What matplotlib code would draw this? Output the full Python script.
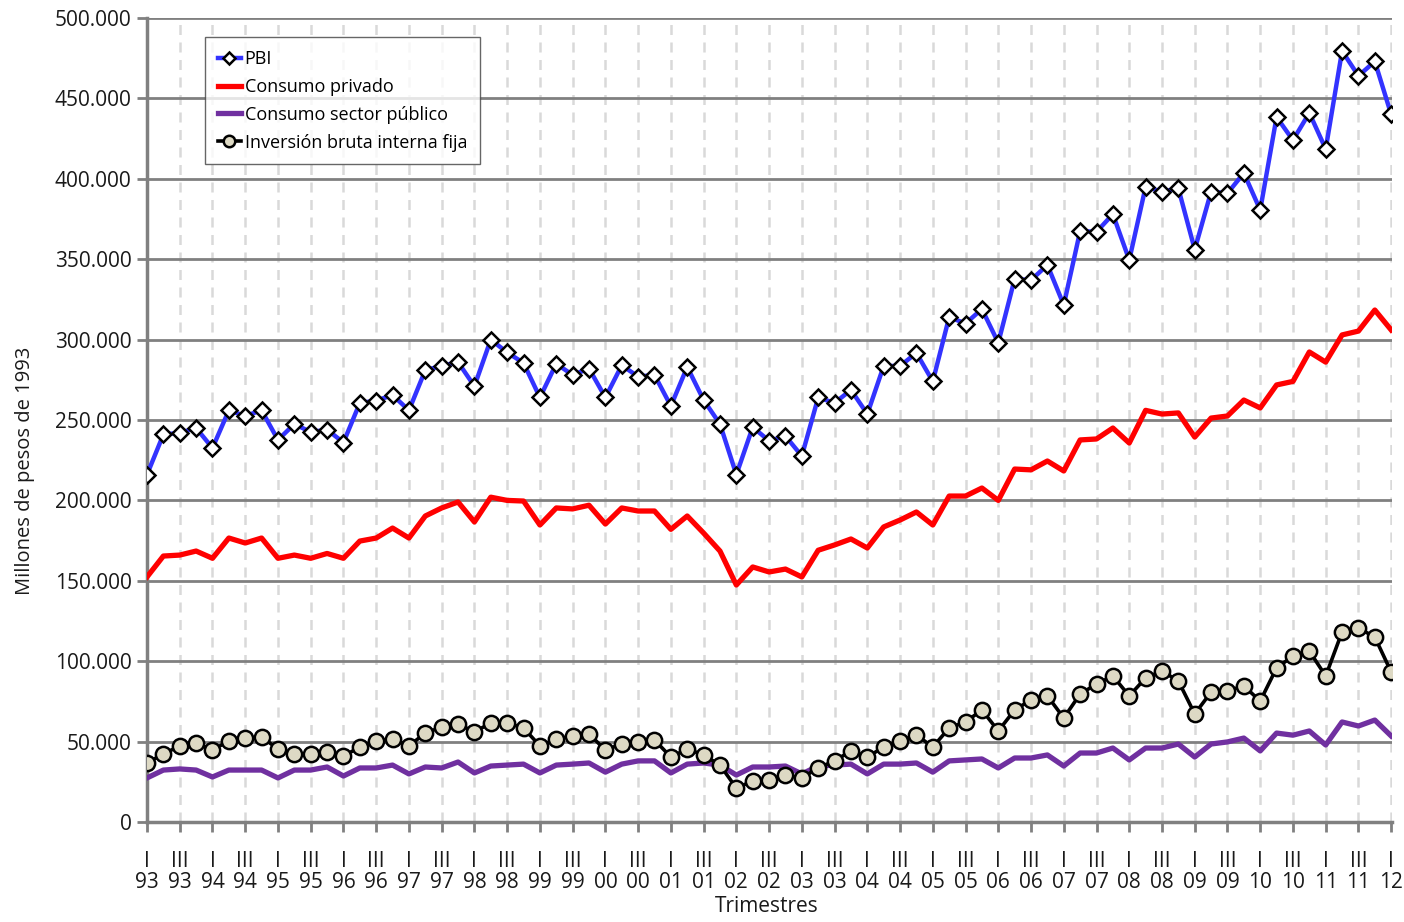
import numpy as np
import matplotlib
matplotlib.use("Agg")
import matplotlib.pyplot as plt
from matplotlib.ticker import FuncFormatter, MultipleLocator

# --- datos trimestrales 1993-I a 2012-I (miles de millones de pesos de 1993 / 1000) ---
years = [f"{y % 100:02d}" for y in range(1993, 2013)]

pbi = [216, 241, 242, 245, 232.6, 256, 252.5, 256,
       237.6, 247.5, 242.5, 244, 236, 260.6, 262, 265.5,
       256, 281, 283.6, 286, 271, 300, 292, 285.5,
       264, 285, 278, 282, 264, 284, 277, 278,
       258.7, 283, 262.4, 247.5, 216, 245.6, 237, 240,
       227.6, 264, 260.6, 268.7, 253.7, 283.6, 283.6, 291.7,
       274, 314, 310, 319, 298, 337.7, 337, 346.4,
       321.5, 367.5, 367, 378, 349.5, 395, 392, 394,
       356, 392, 391, 403.6, 380.6, 438.4, 424, 441,
       418.5, 479.5, 464, 473, 440]

consumo_privado = [152.4, 165.4, 166, 168.5, 164, 176.6, 173.5, 176.6,
                   164, 166, 164, 167, 164, 174.7, 176.6, 182.8,
                   176.6, 190.3, 195.3, 199, 186.6, 202, 200, 199.6,
                   184.7, 195.3, 194.7, 197, 185.3, 195.3, 193.4, 193.4,
                   182, 190.3, 179.7, 168.5, 147.4, 158.6, 155.5, 157.3,
                   152.4, 169, 172.3, 176, 170.4, 183.5, 187.8, 192.8,
                   184.7, 202.7, 202.7, 207.7, 200, 219.5, 219, 224.5,
                   218.3, 237.6, 238.2, 245, 235.7, 256, 253.7, 254.4,
                   239.4, 251.2, 252.5, 262.4, 257.5, 271.8, 274, 292.3,
                   286, 302.9, 305.3, 318.4, 306]

consumo_publico = [27.4, 32.3, 33, 32.3, 28, 32.3, 32.3, 32.3,
                   27.4, 32.3, 32.3, 34.2, 28.6, 33.6, 33.6, 35.4,
                   29.9, 34.2, 33.6, 37.3, 30.5, 34.8, 35.4, 36,
                   30.5, 35.4, 36, 36.7, 31, 36, 38, 38,
                   30.5, 36, 36.7, 35.4, 29.2, 34.2, 34.2, 34.8,
                   29.9, 34.8, 35.4, 36, 29.9, 36, 36, 36.7,
                   31, 38, 38.6, 39.2, 33.6, 39.8, 39.8, 41.7,
                   34.8, 42.9, 42.9, 46, 38.6, 46, 46, 48.5,
                   40.4, 48.5, 49.8, 52.2, 44.2, 55.3, 54, 56.6,
                   47.9, 62.2, 59.7, 63.4, 53.5]

inversion = [36.7, 42.3, 47.3, 49.1, 44.8, 50.4, 52.2, 52.9,
             45.4, 42.3, 42.3, 43.5, 41, 46.6, 50.4, 51.6,
             47.3, 55.3, 59, 61, 56, 61.6, 61.6, 58.5,
             47.3, 51.6, 53.5, 54.7, 44.8, 48.5, 49.8, 51,
             40.4, 45.4, 41.7, 35.4, 21.1, 25.5, 26.1, 29.2,
             27.4, 33.6, 38, 44.2, 40.4, 46.6, 50.4, 54.1,
             46.6, 58.5, 62.2, 69.7, 56.6, 69.7, 75.9, 78.4,
             64.7, 79.6, 85.8, 90.8, 78.4, 89.6, 93.9, 87.7,
             67.2, 80.8, 81.5, 84.6, 75.2, 95.8, 103.2, 106.3,
             90.8, 118.2, 120.6, 115, 93.3]


def miles(v, pos):
    # 500000 -> "500.000"
    if v == 0:
        return "0"
    return f"{int(round(v)):,}".replace(",", ".")


plt.rcParams['font.family'] = ['Open Sans', 'DejaVu Sans']
fig = plt.figure(figsize=(14.04, 9.22), dpi=100)
ax = fig.add_axes([147 / 1404, 1 - 822 / 922, (1392 - 147) / 1404, (822 - 18) / 922])

x = np.arange(len(pbi))
k = 1000.0
grid_gray = '#808080'
txt = '#1a1a1a'

ax.plot(x, np.array(consumo_publico) * k, color='#7030a0', lw=3.8, label='Consumo sector público', zorder=3)
ax.plot(x, np.array(consumo_privado) * k, color='#ff0000', lw=3.8, label='Consumo privado', zorder=3)
ax.plot(x, np.array(inversion) * k, color='black', lw=2.6, marker='o', ms=11,
        mfc='#ddd9c4', mec='black', mew=1.8, label='Inversión bruta interna fija', zorder=4)
ax.plot(x, np.array(pbi) * k, color='#3333ff', lw=3.2, marker='D', ms=8.5,
        mfc='white', mec='black', mew=1.8, label='PBI', zorder=5)

ax.set_xlim(0, len(pbi) - 1 + 0.05)
ax.set_ylim(0, 500000)

ax.yaxis.set_major_locator(MultipleLocator(50000))
ax.yaxis.set_major_formatter(FuncFormatter(miles))

ticks = np.arange(0, len(pbi), 2)
labels = []
for t in ticks:
    q = 'I' if (t % 4) == 0 else 'III'
    labels.append(f"{q}\n{years[t // 4]}")
ax.set_xticks(ticks)
ax.set_xticklabels(labels, linespacing=1.0)

ax.grid(axis='y', color=grid_gray, lw=2, ls='-', zorder=1)
ax.grid(axis='x', color='#d9d9d9', lw=1.8, ls=(0, (4, 3)), zorder=1)
ax.set_axisbelow(True)

for s in ['top', 'right']:
    ax.spines[s].set_visible(False)
for s in ['left', 'bottom']:
    ax.spines[s].set_color(grid_gray)
    ax.spines[s].set_linewidth(2.5)

ax.tick_params(axis='both', colors=grid_gray, width=2, length=7, labelcolor=txt, labelsize=15)
ax.tick_params(axis='x', pad=14)
ax.tick_params(axis='y', pad=4)

ax.set_xlabel('Trimestres', fontsize=15, color=txt)
ax.set_ylabel('Millones de pesos de 1993', fontsize=14.5, color=txt)
ax.xaxis.set_label_coords(0.498, -0.092)
ax.yaxis.set_label_coords(-0.09, 0.437)

h, l = ax.get_legend_handles_labels()
order = [3, 1, 0, 2]
leg = ax.legend([h[i] for i in order], [l[i] for i in order], loc='upper left',
                bbox_to_anchor=(0.0466, 0.976), fontsize=13, frameon=True, fancybox=False,
                handlelength=1.3, handletextpad=0.2, borderpad=0.7, labelspacing=0.55,
                markerscale=0.75, borderaxespad=0)
leg.get_frame().set_edgecolor('#404040')
leg.get_frame().set_linewidth(1.0)

fig.savefig('out.png', dpi=100)
